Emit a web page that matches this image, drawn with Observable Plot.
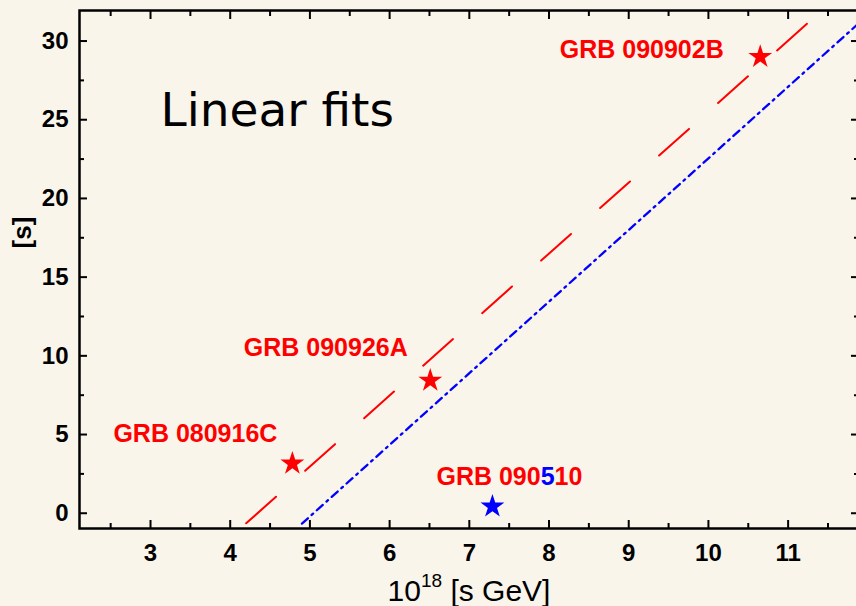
<!DOCTYPE html>
<html><head><meta charset="utf-8">
<script src="https://cdn.jsdelivr.net/npm/d3@7"></script>
<script src="https://cdn.jsdelivr.net/npm/@observablehq/plot@0.6"></script>
<style>html,body{margin:0;padding:0;background:#faf5eb;overflow:hidden;}</style>
</head><body><div id="chart"></div>
<script>
// ---- data ----
const grbNames = ["GRB 080916C", "GRB 090926A", "GRB 090902B", "GRB 090510"];
const grbX = [4.78, 6.51, 10.65, 7.29];
const grbY = [3.16, 8.43, 29.0, 0.43];
const fitRedX = [4.2, 11.26];
const fitRedY = [-0.64, 31.2];
const fitBlueX = [4.9, 11.88];
const fitBlueY = [-0.66, 31.1];
const xMajorTicks = [3, 4, 5, 6, 7, 8, 9, 10, 11];
const xMinorTicks = [2.5, 3.5, 4.5, 5.5, 6.5, 7.5, 8.5, 9.5, 10.5, 11.5];
const yMajorTicks = [0, 5, 10, 15, 20, 25, 30];
const yMinorTicks = [2.5, 7.5, 12.5, 17.5, 22.5, 27.5];
const titleText = "Linear fits";
const xLabelBase = "10", xLabelSup = "18", xLabelRest = " [s GeV]";
const yLabelText = "[s]";

const RED = "#ff0000", BLUE = "#0000ff";
const points = grbNames.map((name, i) => ({name, x: grbX[i], y: grbY[i]}));
const redLine = fitRedX.map((x, i) => ({x, y: fitRedY[i]}));
const blueLine = fitBlueX.map((x, i) => ({x, y: fitBlueY[i]}));
const labelOffsets = [[-97, -21], [-104.5, -25], [-118.5, 1], [17, -21]];

const blank = () => "";
const tickAxes = [];
for (const anchor of ["bottom", "top"]) {
  tickAxes.push(Plot.axisX(xMajorTicks, {anchor, tickSize: -8, strokeWidth: 2, tickFormat: blank, label: null}));
  tickAxes.push(Plot.axisX(xMinorTicks, {anchor, tickSize: -5, strokeWidth: 2, tickFormat: blank, label: null}));
}
for (const anchor of ["left", "right"]) {
  tickAxes.push(Plot.axisY(yMajorTicks, {anchor, tickSize: -8, strokeWidth: 2, tickFormat: blank, label: null}));
  tickAxes.push(Plot.axisY(yMinorTicks, {anchor, tickSize: -5, strokeWidth: 2, tickFormat: blank, label: null}));
}

const plot = Plot.plot({
  width: 856,
  height: 606,
  marginLeft: 79,
  marginRight: -2,
  marginTop: 10,
  marginBottom: 78,
  style: {background: "#faf5eb", fontFamily: "'Liberation Sans', Arial, sans-serif", overflow: "visible"},
  x: {domain: [2.109, 11.883]},
  y: {domain: [-0.97, 31.94]},
  marks: [
    ...tickAxes,
    Plot.axisX(xMajorTicks, {anchor: "bottom", tickSize: 0, tickPadding: 15, fontSize: 24, fontWeight: "bold", label: null, fill: "black"}),
    Plot.axisY(yMajorTicks, {anchor: "left", tickSize: 0, tickPadding: 11, fontSize: 24, fontWeight: "bold", label: null, fill: "black"}),
    Plot.line(redLine, {x: "x", y: "y", stroke: RED, strokeWidth: 2, strokeDasharray: "40,39", clip: true}),
    Plot.line(blueLine, {x: "x", y: "y", stroke: BLUE, strokeWidth: 2.3, strokeDasharray: "8,5,2,5", clip: true}),
    Plot.dot(points, {x: "x", y: "y", symbol: "star", r: 7.5, fill: d => d.name === "GRB 090510" ? BLUE : RED, stroke: "none"}),
    ...points.map((p, i) => Plot.text([p], {
      x: "x", y: "y", text: "name", dx: labelOffsets[i][0], dy: labelOffsets[i][1],
      fill: RED, fontSize: 25, fontWeight: "bold", textAnchor: "middle", lineAnchor: "bottom"
    })),
    Plot.text([titleText], {frameAnchor: "top-left", text: d => d, dx: 81, dy: 115, textAnchor: "start", lineAnchor: "bottom",
      fontSize: 47, fontFamily: "'DejaVu Sans', sans-serif", fontWeight: "normal", fill: "black"}),
    Plot.text([xLabelBase + xLabelSup + xLabelRest], {frameAnchor: "bottom", text: d => d, dy: 72, textAnchor: "middle", lineAnchor: "bottom",
      fontSize: 30, fill: "black"}),
    Plot.text([yLabelText], {frameAnchor: "left", text: d => d, dx: -57, dy: -37, rotate: -90, textAnchor: "middle", lineAnchor: "middle",
      fontSize: 26, fontWeight: "bold", fill: "black"}),
    Plot.frame({stroke: "black", strokeWidth: 2.5})
  ]
});

const svg = d3.select(plot);
svg.selectAll("text").filter(function () { return this.textContent === "GRB 090510"; }).each(function () {
  const t = d3.select(this);
  t.text(null);
  t.append("tspan").text("GRB 090");
  t.append("tspan").attr("fill", BLUE).text("5");
  t.append("tspan").text("10");
});
svg.selectAll("text").filter(function () { return this.textContent === xLabelBase + xLabelSup + xLabelRest; }).each(function () {
  const t = d3.select(this);
  t.text(null);
  t.append("tspan").text(xLabelBase);
  t.append("tspan").attr("font-size", 19).attr("dy", -14).text(xLabelSup);
  t.append("tspan").attr("dy", 14).text(xLabelRest);
});
document.getElementById("chart").appendChild(plot);
</script>
</body></html>
